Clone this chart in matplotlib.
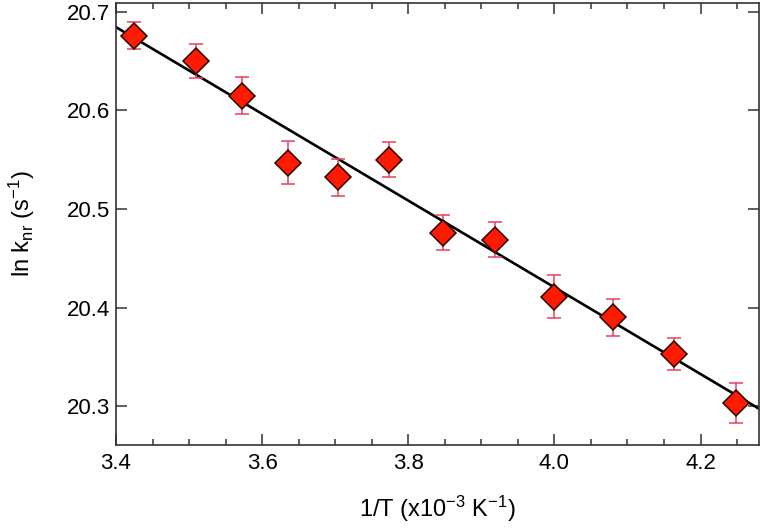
import numpy as np
import matplotlib
matplotlib.use("Agg")
import matplotlib.pyplot as plt
from matplotlib.ticker import MultipleLocator

plt.rcParams['font.family'] = ['Liberation Sans', 'DejaVu Sans']
plt.rcParams['mathtext.default'] = 'regular'

# Data
inv_T = [3.425, 3.509, 3.573, 3.636, 3.704, 3.773, 3.848, 3.918, 4.000, 4.080, 4.164, 4.248]
ln_knr = [20.676, 20.650, 20.615, 20.547, 20.532, 20.550, 20.476, 20.469, 20.411, 20.390, 20.353, 20.303]
ln_knr_err = [0.0135, 0.0176, 0.019, 0.0217, 0.019, 0.0176, 0.0178, 0.0173, 0.022, 0.019, 0.0164, 0.0203]

# Linear fit line (intercept, slope)
fit_intercept = 22.1805
fit_slope = -0.440

fig = plt.figure(figsize=(7.64, 5.32), dpi=100)
ax = fig.add_axes([0.1518, 0.1635, 0.8417, 0.8309])

xfit = np.array([3.4, 4.28])
ax.plot(xfit, fit_intercept + fit_slope * xfit, color='black', linewidth=1.9, zorder=2)

ax.errorbar(inv_T, ln_knr, yerr=ln_knr_err, fmt='D', markersize=13,
            markerfacecolor='#ff1a00', markeredgecolor='#2a0a00', markeredgewidth=1.1,
            ecolor='#e8405a', elinewidth=1.1, capsize=5, capthick=1.1, zorder=3)

ax.set_xlim(3.4, 4.28)
ax.set_ylim(20.2605, 20.709)
ax.xaxis.set_major_locator(MultipleLocator(0.2))
ax.xaxis.set_minor_locator(MultipleLocator(0.05))
ax.yaxis.set_major_locator(MultipleLocator(0.1))

ax.tick_params(which='both', direction='in', top=True, right=True, colors='#333333',
               labelcolor='black', labelsize=16, width=1.1)
ax.tick_params(which='major', length=8, pad=4)
ax.tick_params(which='minor', length=4)
ax.tick_params(axis='x', which='major', pad=6)
for s in ax.spines.values():
    s.set_color('#333333')
    s.set_linewidth(1.2)

ax.set_xlabel(r'1/T (x10$^{-3}$ K$^{-1}$)', fontsize=17, labelpad=14)
ax.set_ylabel(r'ln k$_{nr}$ (s$^{-1}$)', fontsize=17, labelpad=22)

fig.savefig('out.png', dpi=100)
